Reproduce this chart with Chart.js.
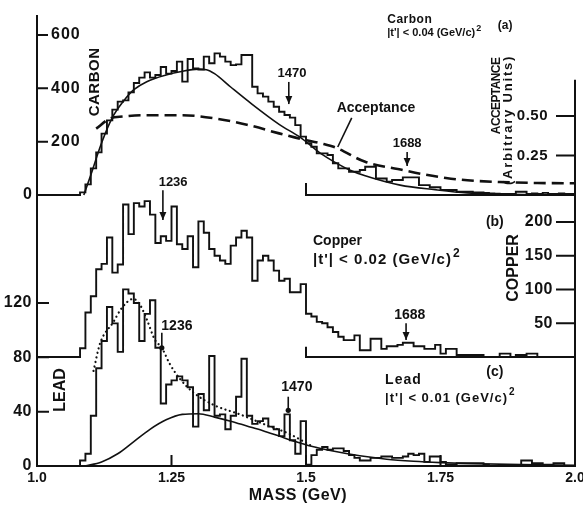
<!DOCTYPE html>
<html>
<head>
<meta charset="utf-8">
<script src="https://cdn.jsdelivr.net/npm/chart.js@4.4.1/dist/chart.umd.min.js"></script>
<style>
  html, body { margin: 0; padding: 0; background: #fff; }
</style>
</head>
<body>
<canvas id="massChart" width="583" height="505"></canvas>
<script>
// Histogram bins: low edge of each 10 MeV bin (GeV)
const BIN_LOW = [
  1.00,1.01,1.02,1.03,1.04,1.05,1.06,1.07,1.08,1.09,
  1.10,1.11,1.12,1.13,1.14,1.15,1.16,1.17,1.18,1.19,
  1.20,1.21,1.22,1.23,1.24,1.25,1.26,1.27,1.28,1.29,
  1.30,1.31,1.32,1.33,1.34,1.35,1.36,1.37,1.38,1.39,
  1.40,1.41,1.42,1.43,1.44,1.45,1.46,1.47,1.48,1.49,
  1.50,1.51,1.52,1.53,1.54,1.55,1.56,1.57,1.58,1.59,
  1.60,1.61,1.62,1.63,1.64,1.65,1.66,1.67,1.68,1.69,
  1.70,1.71,1.72,1.73,1.74,1.75,1.76,1.77,1.78,1.79,
  1.80,1.81,1.82,1.83,1.84,1.85,1.86,1.87,1.88,1.89,
  1.90,1.91,1.92,1.93,1.94,1.95,1.96,1.97,1.98,1.99
];
const MASS_MAX = 2.0;

// (a) Carbon, events per bin
const carbonCounts = [
  0,0,0,0,0,0,0,0,10,40,
  100,160,230,280,320,350,355,385,420,440,
  460,440,450,480,455,465,500,425,510,475,
  470,519,494,531,519,500,487,490,525,525,
  406,381,369,350,331,312,300,290,262,219,
  194,181,156,156,150,119,100,100,87,87,
  94,106,106,62,62,50,56,56,66,66,
  66,37,37,29,29,19,19,19,12,12,
  12,10,10,8,6,5,4,4,4,12,
  12,4,6,4,8,4,4,6,4,4
];
// (b) Copper
const copperCounts = [
  0,0,0,0,0,0,0,0,13,66,
  90,130,138,177,125,137,226,182,228,223,
  231,211,169,179,172,223,167,160,179,133,
  201,184,160,150,143,138,165,177,187,177,
  113,143,150,143,128,113,116,96,96,108,
  64,60,52,50,44,37,30,25,25,32,
  10,10,27,27,12,16,16,18,21,21,
  16,16,12,12,18,5,12,12,3,3,
  3,3,3,0,0,0,5,5,0,3,
  3,5,5,0,0,0,0,0,0,0
];
// (c) Lead
const leadCounts = [
  0,0,0,0,0,0,0,0,4,9,
  37,72,92,117,105,84,130,127,120,92,
  112,122,87,46,60,63,66,63,58,29,
  53,41,81,37,38,27,37,51,79,37,
  31,33,35,29,27,22,38,19,9,33,
  1,8,12,14,12,13,13,11,8,6,
  4,4,6,6,7,7,6,6,7,9,
  8,9,3,7,7,3,1,1,2,2,
  2,2,2,1,0,0,0,0,0,0,
  4,4,2,2,1,1,2,2,0,0
];

// Smooth curves
const carbonFitMass = [1.087,1.10,1.12,1.14,1.16,1.18,1.204,1.24,1.266,1.30,1.315,1.33,1.36,1.40,1.45,1.49,1.53,1.55,1.58,1.61,1.675,1.74,1.80,1.90,2.0];
const carbonFitVals = [0,75,195,290,350,395,425,450,462,472,470,455,405,340,265,215,152,127,95,72,37,20,8,2,0];

const acceptMass = [1.11,1.136,1.16,1.20,1.27,1.33,1.39,1.45,1.49,1.53,1.555,1.61,1.68,1.72,1.76,1.80,1.86,1.93,2.0];
const acceptVals = [0.42,0.485,0.497,0.505,0.505,0.485,0.445,0.39,0.355,0.325,0.30,0.21,0.158,0.13,0.108,0.093,0.082,0.076,0.074];

const leadDotMass = [1.105,1.117,1.142,1.157,1.179,1.191,1.204,1.219,1.232,1.247,1.266,1.291,1.328,1.377,1.427,1.467,1.514];
const leadDotVals = [70,90,106,116,123,119,108,93,87,75,64,54,45,38,30,24,14];

const leadBgMass = [1.089,1.12,1.15,1.18,1.21,1.24,1.27,1.30,1.33,1.36,1.39,1.42,1.45,1.48,1.51,1.55,1.60,1.65,1.70,1.75,1.80,1.90,2.0];
const leadBgVals = [0,3,9,18,27,34,38,38.5,36,33,29.5,26,22,18,14.5,11,7.5,5,3.5,2.5,1.8,1,0.6];

// Tick labels
const xTicks = [1.0, 1.25, 1.5, 1.75, 2.0];
const carbonTicks = [200, 400, 600];
const leadTicks = [0, 40, 80, 120];
const acceptTicks = [0.25, 0.50];
const copperTicks = [50, 100, 150, 200];

const FONT = '"Liberation Sans", Arial, sans-serif';
const INK = '#111';

function histPoints(vals) {
    const pts = BIN_LOW.map((x, i) => ({ x, y: vals[i] }));
    pts.push({ x: MASS_MAX, y: vals[vals.length - 1] });
    return pts;
}
const zip = (xs, ys) => xs.map((x, i) => ({ x, y: ys[i] }));

function txt(ctx, s, x, y, size, opt = {}) {
    ctx.save();
    ctx.font = `bold ${size}px ${FONT}`;
    ctx.fillStyle = INK;
    ctx.textAlign = opt.align || 'center';
    ctx.textBaseline = 'middle';
    if ('letterSpacing' in ctx) ctx.letterSpacing = (opt.sp || 0) + 'px';
    ctx.translate(x, y);
    if (opt.rot) ctx.rotate(-Math.PI / 2);
    ctx.fillText(s, 0, 0);
    ctx.restore();
}

// |t'| text with a raised "2"
function tText(ctx, s, x, y, size, sp) {
    txt(ctx, s, x, y, size, { align: 'left', sp });
    ctx.save();
    ctx.font = `bold ${size}px ${FONT}`;
    if ('letterSpacing' in ctx) ctx.letterSpacing = sp + 'px';
    const w = ctx.measureText(s).width;
    ctx.restore();
    txt(ctx, '2', x + w + 1, y - size * 0.42, Math.round(size * 0.8), { align: 'left' });
}

function vline(ctx, x, y1, y2, head) {
    ctx.beginPath(); ctx.moveTo(x, y1); ctx.lineTo(x, y2); ctx.stroke();
    if (head === 'arrow') {
        ctx.beginPath();
        ctx.moveTo(x - 3.5, y2 - 8); ctx.lineTo(x + 3.5, y2 - 8); ctx.lineTo(x, y2);
        ctx.closePath(); ctx.fill();
    } else if (head === 'dot') {
        ctx.beginPath(); ctx.arc(x, y2, 2.6, 0, 2 * Math.PI); ctx.fill();
    }
}

const decorations = {
    id: 'decorations',
    afterDatasetsDraw(chart) {
        const { ctx, chartArea: a, scales: s } = chart;
        const X = v => s.x.getPixelForValue(v);
        const C = v => s.yC.getPixelForValue(v);
        const A = v => s.yA.getPixelForValue(v);
        const Cu = v => s.yCu.getPixelForValue(v);
        const Pb = v => s.yPb.getPixelForValue(v);

        ctx.save();
        ctx.strokeStyle = INK;
        ctx.fillStyle = INK;
        ctx.lineWidth = 2;
        ctx.lineCap = 'butt';

        // frame: left and right axis lines
        ctx.beginPath();
        ctx.moveTo(a.left, a.top); ctx.lineTo(a.left, a.bottom);
        ctx.moveTo(a.right, A(0.73)); ctx.lineTo(a.right, a.bottom);
        ctx.stroke();

        // inner ticks
        ctx.beginPath();
        carbonTicks.forEach(v => { ctx.moveTo(a.left, C(v)); ctx.lineTo(a.left + 11, C(v)); });
        leadTicks.filter(v => v > 0).forEach(v => { ctx.moveTo(a.left, Pb(v)); ctx.lineTo(a.left + 12, Pb(v)); });
        acceptTicks.forEach(v => { ctx.moveTo(a.right - 19, A(v)); ctx.lineTo(a.right, A(v)); });
        copperTicks.forEach(v => { ctx.moveTo(a.right - 19, Cu(v)); ctx.lineTo(a.right, Cu(v)); });
        [1.25, 1.5, 1.75].forEach(v => { ctx.moveTo(X(v), a.bottom); ctx.lineTo(X(v), a.bottom - 11); });
        ctx.stroke();

        // tick labels
        carbonTicks.forEach(v => txt(ctx, String(v), a.left + 14, C(v), 16, { align: 'left', sp: 1 }));
        txt(ctx, '0', a.left - 5, C(0), 16, { align: 'right' });
        leadTicks.forEach(v => txt(ctx, String(v), a.left - 5, Pb(v), 16, { align: 'right', sp: 0.5 }));
        acceptTicks.forEach(v => txt(ctx, v.toFixed(2), a.right - 27, A(v), 15, { align: 'right', sp: 0.5 }));
        copperTicks.forEach(v => txt(ctx, String(v), a.right - 22, Cu(v), 16, { align: 'right', sp: 0.5 }));

        // axis titles
        txt(ctx, 'CARBON', X(1.108), C(424), 15, { rot: true, sp: 0.5 });
        txt(ctx, 'LEAD', X(1.043), Pb(56), 16, { rot: true });
        txt(ctx, 'COPPER', X(1.885), Cu(132), 16, { rot: true });
        txt(ctx, 'ACCEPTANCE', X(1.855), A(0.627), 12, { rot: true, sp: -0.6 });
        txt(ctx, '(Arbitrary Units)', X(1.877), A(0.475), 13, { rot: true, sp: 1.8 });
        txt(ctx, 'MASS (GeV)', X(1.485), 496, 16, { sp: 0.5 });

        ctx.lineWidth = 1.6;
        // (a) carbon
        txt(ctx, 'Carbon', X(1.651), C(656), 12, { align: 'left', sp: 0.5 });
        tText(ctx, "|t'| < 0.04 (GeV/c)", X(1.651), C(607), 11, 0);
        txt(ctx, '(a)', X(1.870), C(634), 12);
        txt(ctx, '1470', X(1.474), C(457), 13);
        vline(ctx, X(1.468), C(424), C(341), 'arrow');
        txt(ctx, '1688', X(1.688), C(195), 13);
        vline(ctx, X(1.688), C(161), C(109), 'arrow');
        txt(ctx, 'Acceptance', X(1.630), C(326), 14);
        ctx.beginPath();
        ctx.moveTo(X(1.585), C(289)); ctx.lineTo(X(1.559), C(180));
        ctx.stroke();

        // (b) copper
        txt(ctx, '(b)', X(1.851), Cu(200), 14);
        txt(ctx, 'Copper', X(1.513), Cu(172), 14, { align: 'left' });
        tText(ctx, "|t'| < 0.02 (GeV/c)", X(1.513), Cu(144), 15, 1);
        txt(ctx, '1236', X(1.253), Cu(258), 13);
        vline(ctx, X(1.234), Cu(247), Cu(203), 'arrow');
        txt(ctx, '1688', X(1.693), Cu(62), 14);
        vline(ctx, X(1.686), Cu(50), Cu(25), 'arrow');

        // (c) lead
        txt(ctx, '(c)', X(1.851), Pb(69), 14);
        txt(ctx, 'Lead', X(1.647), Pb(63), 14, { align: 'left', sp: 1 });
        tText(ctx, "|t'| < 0.01 (GeV/c)", X(1.647), Pb(50), 13, 1);
        txt(ctx, '1236', X(1.260), Pb(103), 14);
        vline(ctx, X(1.232), Pb(98), Pb(87), 'dot');
        txt(ctx, '1470', X(1.483), Pb(58), 14);
        vline(ctx, X(1.467), Pb(51), Pb(41), 'dot');

        ctx.restore();
    }
};

const histStyle = {
    stepped: 'before',   // bin value held from its low edge to the next edge
    borderColor: INK,
    borderWidth: 1.9,
    pointRadius: 0,
    fill: false
};
const curveStyle = {
    borderColor: INK,
    pointRadius: 0,
    fill: false,
    cubicInterpolationMode: 'monotone'
};

const ctx = document.getElementById('massChart').getContext('2d');
new Chart(ctx, {
    type: 'line',
    data: {
        datasets: [
            { ...histStyle, label: 'Carbon', yAxisID: 'yC', data: histPoints(carbonCounts) },
            { ...curveStyle, label: 'Carbon fit', yAxisID: 'yC', borderWidth: 1.6, data: zip(carbonFitMass, carbonFitVals) },
            { ...curveStyle, label: 'Acceptance', yAxisID: 'yA', borderWidth: 2.6, borderDash: [12, 6], data: zip(acceptMass, acceptVals) },
            { ...curveStyle, label: 'Carbon base', yAxisID: 'yC', borderWidth: 2, cubicInterpolationMode: 'default', tension: 0,
              data: [{ x: 1.5, y: 45 }, { x: 1.5, y: 0 }, { x: 2.0, y: 0 }] },
            { ...histStyle, label: 'Copper', yAxisID: 'yCu', data: histPoints(copperCounts) },
            { ...curveStyle, label: 'Copper base', yAxisID: 'yCu', borderWidth: 2, cubicInterpolationMode: 'default', tension: 0,
              data: [{ x: 1.5, y: 15 }, { x: 1.5, y: 0 }, { x: 2.0, y: 0 }] },
            { ...histStyle, label: 'Lead', yAxisID: 'yPb', data: histPoints(leadCounts) },
            { ...curveStyle, label: 'Lead fit', yAxisID: 'yPb', borderWidth: 2.2, borderDash: [0.1, 4.5], borderCapStyle: 'round',
              data: zip(leadDotMass, leadDotVals) },
            { ...curveStyle, label: 'Lead background', yAxisID: 'yPb', borderWidth: 1.6, data: zip(leadBgMass, leadBgVals) }
        ]
    },
    options: {
        responsive: false,
        animation: false,
        events: [],
        layout: { padding: { left: 37, right: 8, top: 15, bottom: 0 } },
        plugins: { legend: { display: false }, tooltip: { enabled: false } },
        scales: {
            x: {
                type: 'linear',
                min: 1.0,
                max: 2.0,
                afterBuildTicks: sc => { sc.ticks = xTicks.map(v => ({ value: v })); },
                afterFit: sc => { sc.height = 39; sc.paddingLeft = 0; sc.paddingRight = 0; },
                grid: { display: false, drawTicks: false },
                border: { display: true, color: INK, width: 2 },
                ticks: {
                    color: INK,
                    padding: 4,
                    maxRotation: 0,
                    font: { family: FONT, size: 14, weight: 'bold' },
                    callback: v => (v === 1 || v === 2) ? v.toFixed(1) : String(v)
                }
            },
            // every panel scale covers the full plot height, offset so its zero sits on its own baseline
            yC:  { display: false, min: -1016.25, max: 675 },
            yA:  { display: false, min: -1.7152, max: 1.1392 },
            yCu: { display: false, min: -161.5, max: 506.7 },
            yPb: { display: false, min: 0, max: 332 }
        }
    },
    plugins: [decorations]
});
</script>
</body>
</html>
